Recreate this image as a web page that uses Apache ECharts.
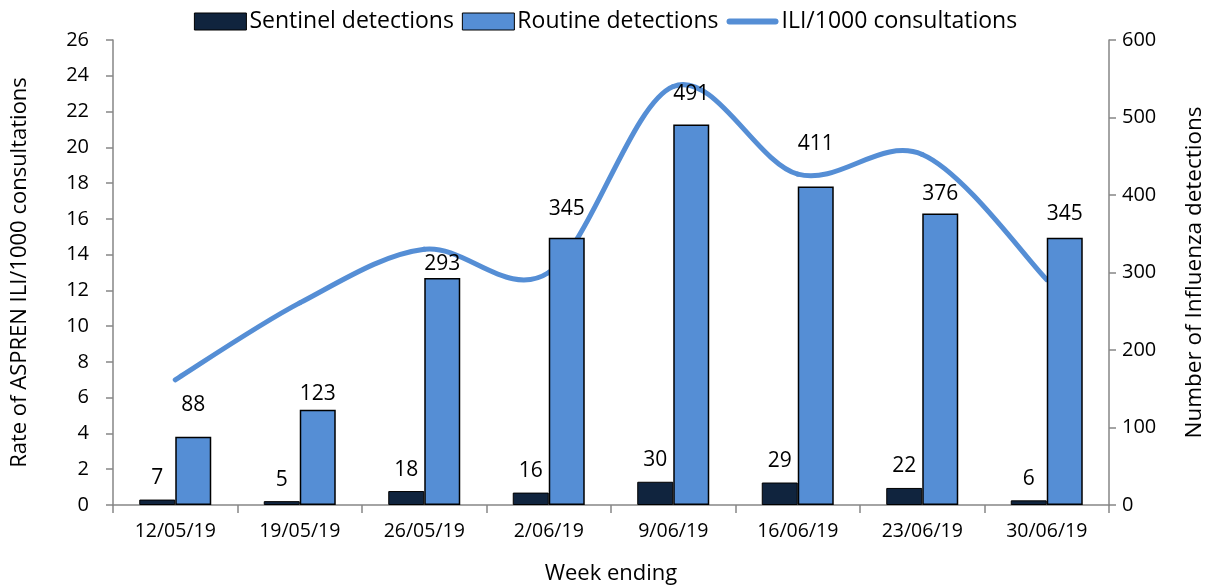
<!DOCTYPE html>
<html><head><meta charset="utf-8">
<script src="https://cdn.jsdelivr.net/npm/echarts@6/dist/echarts.min.js"></script>
<style>html,body{margin:0;padding:0;background:#fff}#c{width:1211px;height:587px}</style>
</head><body><div id="c"></div>
<script>
const categories = ['12/05/19','19/05/19','26/05/19','2/06/19','9/06/19','16/06/19','23/06/19','30/06/19'];
const sentinel = [7, 5, 18, 16, 30, 29, 22, 6];
const routine = [88, 123, 293, 345, 491, 411, 376, 345];
const ili = [7.0, 11.3, 14.3, 13.0, 23.4, 18.5, 19.6, 12.6];
const leftTicks = {min: 0, max: 26, interval: 2};
const rightTicks = {min: 0, max: 600, interval: 100};

// label placement styling (distance above bar top, px), kept separate from data
const routineLabelGap = [21, 5, 3, 18, 20, 32, 9, 13];

const FONT = 'Open Sans';
const axisCol = '#868686';
const lineCol = '#558ed5';

// Excel-style smoothed line: cubic Bezier segments (Catmull-Rom, 1/6 tension)
function renderSmooth(params, api) {
  const i = params.dataIndexInside;
  const n = params.dataInsideLength;
  if (i >= n - 1) return null;
  const pt = k => api.coord([Math.max(0, Math.min(n - 1, k)), api.value(1, Math.max(0, Math.min(n - 1, k)))]);
  const p0 = pt(i - 1), p1 = pt(i), p2 = pt(i + 1), p3 = pt(i + 2);
  return {
    type: 'bezierCurve',
    shape: {
      x1: p1[0], y1: p1[1],
      cpx1: p1[0] + (p2[0] - p0[0]) / 6, cpy1: p1[1] + (p2[1] - p0[1]) / 6,
      cpx2: p2[0] - (p3[0] - p1[0]) / 6, cpy2: p2[1] - (p3[1] - p1[1]) / 6,
      x2: p2[0], y2: p2[1]
    },
    style: {stroke: lineCol, lineWidth: 5, fill: null, lineCap: 'round'}
  };
}

const chart = echarts.init(document.getElementById('c'), null, {renderer: 'canvas'});
chart.setOption({
  animation: false,
  textStyle: {fontFamily: FONT, color: '#000'},
  legend: {
    top: 5, left: 'center', itemGap: 8, itemWidth: 52, itemHeight: 17,
    textStyle: {fontFamily: FONT, fontSize: 23, color: '#000', padding: [0, 0, 0, -2]},
    data: [
      {name: 'Sentinel detections', icon: 'rect', itemStyle: {borderColor: '#000', borderWidth: 1}},
      {name: 'Routine detections', icon: 'rect', itemStyle: {borderColor: '#000', borderWidth: 1}},
      {name: 'ILI/1000 consultations', icon: 'path://M3,0 L49,0 A3,3 0 0 1 49,6 L3,6 A3,3 0 0 1 3,0 Z', itemStyle: {color: lineCol}}
    ]
  },
  grid: {left: 113, right: 102, top: 40, bottom: 82, containLabel: false, outerBoundsMode: 'none'},
  xAxis: {
    type: 'category', data: categories, boundaryGap: true,
    name: 'Week ending', nameLocation: 'middle', nameGap: 58,
    nameTextStyle: {fontFamily: FONT, fontSize: 22, color: '#000'},
    axisLine: {lineStyle: {color: axisCol, width: 1.5}},
    axisTick: {show: true, length: 8, lineStyle: {color: axisCol, width: 1.5}},
    axisLabel: {fontFamily: FONT, fontSize: 19.5, color: '#000', margin: 16}
  },
  yAxis: [
    {
      type: 'value', min: leftTicks.min, max: leftTicks.max, interval: leftTicks.interval,
      name: 'Rate of ASPREN ILI/1000 consultations', nameLocation: 'middle', nameGap: 82,
      nameTextStyle: {fontFamily: FONT, fontSize: 22, color: '#000'},
      axisLine: {show: true, lineStyle: {color: axisCol, width: 1.5}},
      axisTick: {show: true, length: 7, lineStyle: {color: axisCol, width: 1.5}},
      splitLine: {show: false},
      axisLabel: {fontFamily: FONT, fontSize: 20, color: '#000', margin: 24}
    },
    {
      type: 'value', min: rightTicks.min, max: rightTicks.max, interval: rightTicks.interval,
      name: 'Number of Influenza detections', nameLocation: 'middle', nameGap: 74,
      nameTextStyle: {fontFamily: FONT, fontSize: 22.5, color: '#000'},
      axisLine: {show: true, lineStyle: {color: axisCol, width: 1.5}},
      axisTick: {show: true, length: 7, lineStyle: {color: axisCol, width: 1.5}},
      splitLine: {show: false},
      axisLabel: {fontFamily: FONT, fontSize: 20, color: '#000', margin: 13}
    }
  ],
  series: [
    {
      name: 'Sentinel detections', type: 'bar', yAxisIndex: 1, data: sentinel,
      barWidth: 36, barGap: '0%', z: 3,
      itemStyle: {color: '#10243e', borderColor: '#000', borderWidth: 1},
      label: {show: true, position: 'top', distance: 11, fontFamily: FONT, fontSize: 21, color: '#000'}
    },
    {
      name: 'Routine detections', type: 'bar', yAxisIndex: 1, barWidth: 36, barGap: '0%', z: 3,
      data: routine.map((v, i) => ({value: v, label: {distance: routineLabelGap[i]}})),
      itemStyle: {color: lineCol, borderColor: '#000', borderWidth: 1.5},
      label: {show: true, position: 'top', fontFamily: FONT, fontSize: 21, color: '#000'}
    },
    {
      name: 'ILI/1000 consultations', type: 'custom', yAxisIndex: 0, z: 2,
      data: ili.map((v, i) => [i, v]),
      encode: {x: 0, y: 1},
      itemStyle: {color: lineCol},
      renderItem: renderSmooth
    }
  ]
});
</script></body></html>
